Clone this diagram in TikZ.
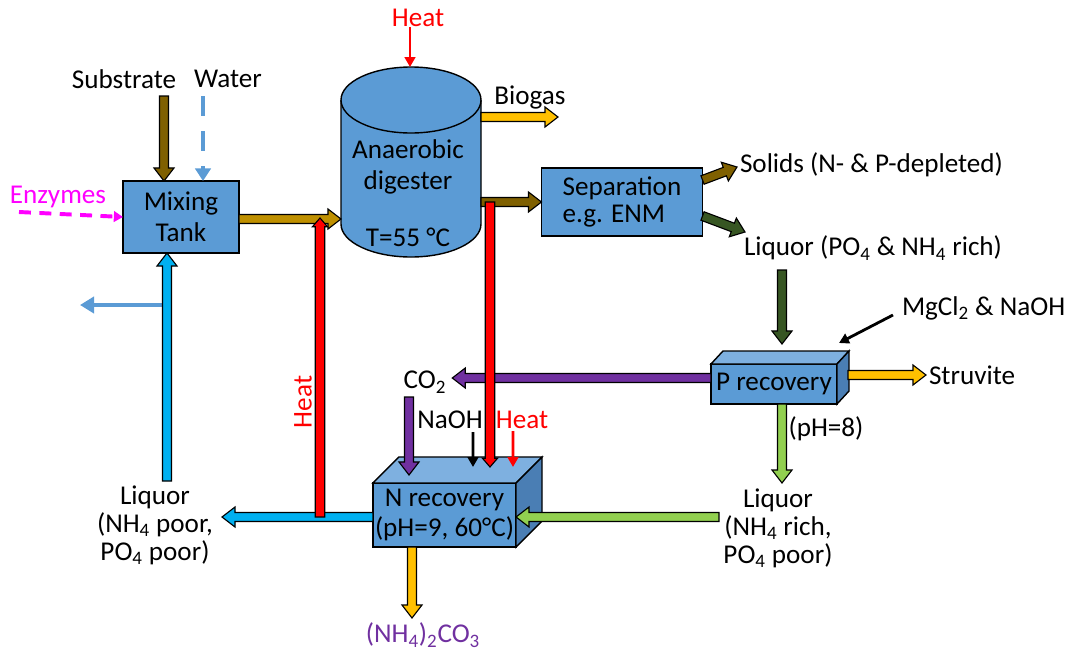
\documentclass[tikz,border=0pt]{standalone}
\usepackage{fontspec}
\setmainfont{Carlito}
\usetikzlibrary{calc,arrows.meta}

\definecolor{boxblue}{HTML}{5B9BD5}
\definecolor{boxtop}{HTML}{7EB0E0}
\definecolor{boxside}{HTML}{4A7EB4}
\definecolor{substr}{HTML}{7F6000}
\definecolor{feed}{HTML}{BF9000}
\definecolor{gasgold}{HTML}{FFC000}
\definecolor{liqgreen}{HTML}{375623}
\definecolor{lightgreen}{HTML}{92D050}
\definecolor{co2purple}{HTML}{7030A0}
\definecolor{recycle}{HTML}{00B0F0}
\definecolor{heatred}{HTML}{FF0000}
\definecolor{enzpink}{HTML}{FF00FF}

% outlined block arrow: style, shaft half width, head half width, head length, from, to
\newcommand{\barrow}[6]{%
  \coordinate (tipbase) at ($(#6)!#4!(#5)$);
  \filldraw[draw=black,line width=0.8pt,#1]
    ($(#5)!#2!90:(#6)$) -- ($(tipbase)!#2!90:(#6)$) -- ($(tipbase)!#3!90:(#6)$) -- (#6)
    -- ($(tipbase)!#3!-90:(#6)$) -- ($(tipbase)!#2!-90:(#6)$) -- ($(#5)!#2!-90:(#6)$) -- cycle;}
\newcommand{\flow}[3]{\barrow{fill=#1}{0.1125cm}{0.25cm}{0.325cm}{#2}{#3}}
\newcommand{\heatbar}[2]{\barrow{fill=heatred}{0.12cm}{0.19cm}{0.22cm}{#1}{#2}}

\begin{document}
\begin{tikzpicture}[x=0.025cm,y=-0.025cm]
  \tikzstyle{every node}=[font=\fontsize{19.3}{22}\selectfont, inner sep=0pt, outer sep=0pt]
  \tikzstyle{unit}=[draw=black, line width=1pt, fill=boxblue, align=center]
  \tikzstyle{thin flow}=[line width=2pt, -{Triangle[length=7pt,width=7.5pt]}]
  \useasboundingbox (0,0) rectangle (1068,653);

  % digester
  \fill[boxblue] (341,100) -- (341,224) arc[start angle=180,end angle=0,x radius=70,y radius=33] -- (481,100) -- cycle;
  \draw[line width=1pt] (341,100) -- (341,224) arc[start angle=180,end angle=0,x radius=70,y radius=33] -- (481,100);
  \draw[line width=1pt, fill=boxblue] (411,100) ellipse [x radius=70, y radius=33];
  \node[align=center] (ad) at (408,167) {Anaerobic\\digester};
  \node (adtemp) at (408,237) {T=55 °C};

  % units
  \node[unit, minimum width=2.9cm, minimum height=1.8cm] (mix) at (181,217) {Mixing\\Tank};
  \node[unit, minimum width=4.025cm, minimum height=1.7cm, align=left,
        font=\fontsize{19.3}{19.5}\selectfont] (sep) at (622,202) {Separation\\e.g. ENM};

  \node[unit, minimum width=3.575cm, minimum height=1.6cm] (nrec) at (444.5,515) {N recovery\\(pH=9, 60°C)};
  \filldraw[fill=boxtop, line width=1pt] (nrec.north west) -- ++(26,-26) -- ($(nrec.north east)+(26,-26)$) -- (nrec.north east) -- cycle;
  \filldraw[fill=boxside, line width=1pt] (nrec.north east) -- ++(26,-26) -- ($(nrec.south east)+(26,-26)$) -- (nrec.south east) -- cycle;

  \node[unit, minimum width=3.15cm, minimum height=1cm] (prec) at (774,384) {P recovery};
  \filldraw[fill=boxtop, line width=1pt] (prec.north west) -- ++(12,-13) -- ($(prec.north east)+(12,-13)$) -- (prec.north east) -- cycle;
  \filldraw[fill=boxside, line width=1pt] (prec.north east) -- ++(12,-13) -- ($(prec.south east)+(12,-13)$) -- (prec.south east) -- cycle;

  % labels
  \node (subs) at (124,79) {Substrate};
  \node (water) at (228,79) {Water};
  \node[text=enzpink] (enz) at (58,197) {Enzymes};
  \node[text=heatred] (heattop) at (418,18) {Heat};
  \node (biogas) at (530,97) {Biogas};
  \node[anchor=west] (solids) at (740,165) {Solids (N- \& P-depleted)};
  \node (liqrich) at (873,248) {Liquor (PO\textsubscript{4} \& NH\textsubscript{4} rich)};
  \node[anchor=west] (mgcl) at (902,308) {MgCl\textsubscript{2} \& NaOH};
  \node[anchor=west] (struvite) at (929,375) {Struvite};
  \node (ph8) at (826,429) {(pH=8)};
  \node[align=center, font=\fontsize{19.3}{20}\selectfont] (liqn) at (778,528) {Liquor\\(NH\textsubscript{4} rich,\\PO\textsubscript{4} poor)};
  \node (co2) at (425,382) {CO\textsubscript{2}};
  \node (naoh) at (450,420) {NaOH};
  \node[text=heatred] (heatn) at (522,420) {Heat};
  \node[text=heatred, rotate=90] (heatv) at (303,402) {Heat};
  \node[align=center, font=\fontsize{19.3}{20}\selectfont] (liqpoor) at (155,525) {Liquor\\(NH\textsubscript{4} poor,\\PO\textsubscript{4} poor)};
  \node[text=co2purple] (carb) at (423,635) {(NH\textsubscript{4})\textsubscript{2}CO\textsubscript{3}};

  % free ends
  \coordinate (subsin) at (164,96);
  \coordinate (waterin) at (203,96);
  \coordinate (enzin) at (19,212);
  \coordinate (purgeout) at (162,305);
  \coordinate (purge) at (80,305);
  \coordinate (adtop) at (410,67);
  \coordinate (adin) at (341,219);
  \coordinate (adout) at (481,202);
  \coordinate (gasout) at (481,117);
  \coordinate (gasend) at (558,117);
  \coordinate (solidsend) at (737,167);
  \coordinate (liqend) at (745,232);
  \coordinate (liqrichout) at (782,270);
  \coordinate (liqnin) at (782,483);
  \coordinate (liqnout) at (719,517);
  \coordinate (liqpoorin) at (222,517);
  \coordinate (liqpoorup) at (167,481);
  \coordinate (hxlow) at (320,517);
  \coordinate (hxup) at (320,218);
  \coordinate (hxtop) at (490,202);
  \coordinate (co2down) at (409,397);
  \coordinate (naohin) at (473,432);
  \coordinate (heatin) at (513,431);
  \coordinate (carbend) at (412,618);

  % feeds
  \flow{substr}{subsin}{$(mix.north)+(-17,0)$}
  \draw[line width=3.5pt, boxblue, dash pattern=on 14pt off 11pt, -{Triangle[length=9pt,width=11pt]}]
    (waterin) -- ($(mix.north)+(22,0)$);
  \draw[line width=2.8pt, enzpink, dash pattern=on 8.5pt off 6pt, -{Triangle[length=6.5pt,width=7.5pt]}]
    (enzin) -- (mix.west);
  \draw[line width=3.5pt, boxblue, -{Triangle[length=10pt,width=11.5pt]}] (purgeout) -- (purge);

  % main line
  \flow{feed}{$(mix.east)+(0,2)$}{adin}
  \draw[thin flow, heatred] (adtop |- heattop.south) -- (adtop);
  \flow{gasgold}{gasout}{gasend}
  \flow{substr}{adout}{sep.west}
  \flow{substr}{$(sep.east)+(0,-22)$}{solidsend}
  \flow{liqgreen}{$(sep.east)+(0,14)$}{liqend}
  \flow{liqgreen}{liqrichout}{$(prec.north)+(8,-20)$}
  \draw[thin flow] (mgcl.west) ++(-9,7) -- ($(prec.north east)+(2,-21)$);
  \flow{gasgold}{$(prec.east)+(11,-9)$}{$(struvite.west)+(-3,0)$}
  \flow{co2purple}{$(prec.west)+(0,-6)$}{$(co2.east)+(6,-4)$}
  \flow{lightgreen}{$(prec.south)+(8,0)$}{liqnin}
  \flow{lightgreen}{liqnout}{$(nrec.east)+(0,2)$}

  % recycle
  \flow{recycle}{$(nrec.west)+(0,2)$}{liqpoorin}
  \flow{recycle}{liqpoorup}{$(mix.south)+(-14,0)$}

  % heat exchange
  \heatbar{hxlow}{hxup}
  \heatbar{hxtop}{$(nrec.north)+(45.5,-16)$}

  % N recovery inputs
  \flow{co2purple}{co2down}{$(nrec.north)+(-35.5,-8)$}
  \draw[thin flow] (naohin) -- ($(nrec.north)+(28.5,-16)$);
  \draw[thin flow, heatred] (heatin) -- ($(nrec.north)+(68.5,-16)$);
  \flow{gasgold}{$(nrec.south)+(-32.5,0)$}{carbend}
\end{tikzpicture}
\end{document}
